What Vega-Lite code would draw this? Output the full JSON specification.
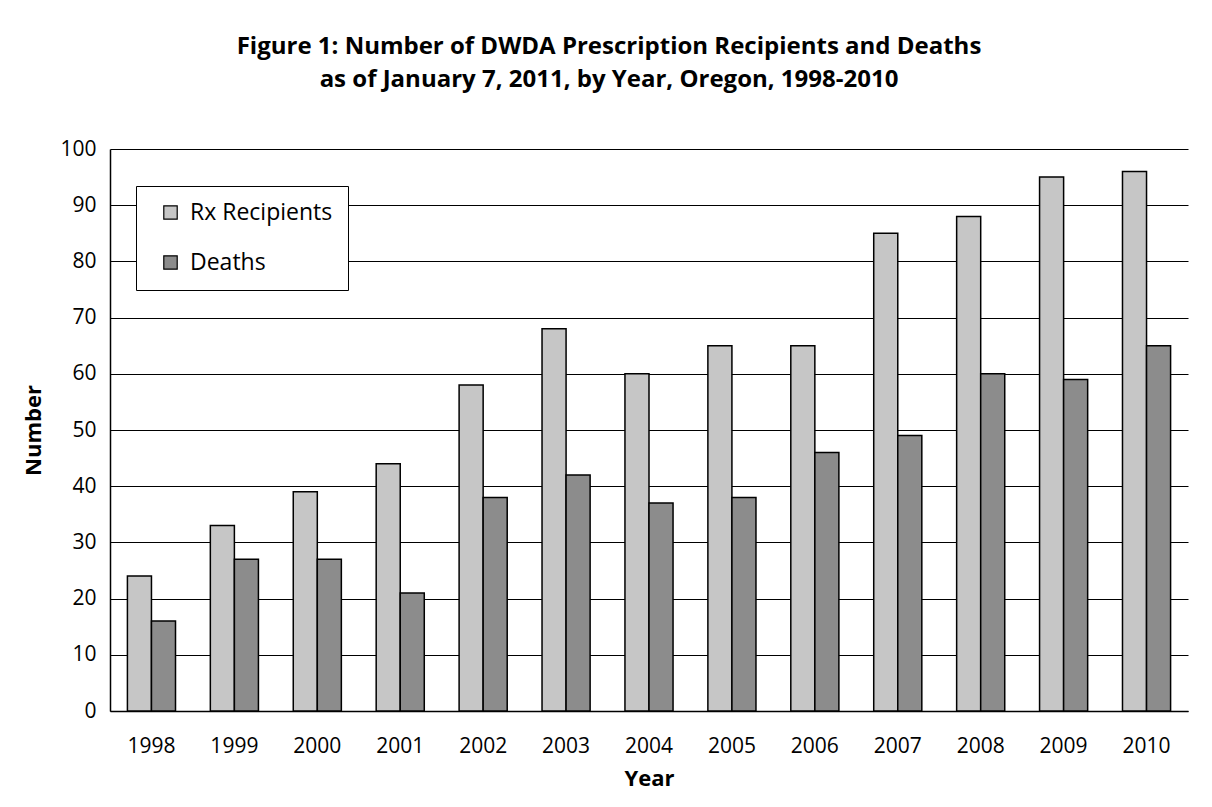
{
  "$schema": "https://vega.github.io/schema/vega-lite/v6.json",
  "autosize": "none",
  "width": 1078,
  "height": 562,
  "padding": {"left": 110, "top": 149, "right": 24, "bottom": 96},
  "background": "white",
  "title": {
    "text": ["Figure 1: Number of DWDA Prescription Recipients and Deaths", "as of January 7, 2011, by Year, Oregon, 1998-2010"],
    "font": "Open Sans",
    "fontSize": 24,
    "fontWeight": "bold",
    "color": "black",
    "lineHeight": 33,
    "anchor": "middle",
    "dx": -40,
    "offset": 46
  },
  "data": {
    "values": [
      {"Year": "1998", "Series": "Rx Recipients", "Number": 24},
      {"Year": "1998", "Series": "Deaths", "Number": 16},
      {"Year": "1999", "Series": "Rx Recipients", "Number": 33},
      {"Year": "1999", "Series": "Deaths", "Number": 27},
      {"Year": "2000", "Series": "Rx Recipients", "Number": 39},
      {"Year": "2000", "Series": "Deaths", "Number": 27},
      {"Year": "2001", "Series": "Rx Recipients", "Number": 44},
      {"Year": "2001", "Series": "Deaths", "Number": 21},
      {"Year": "2002", "Series": "Rx Recipients", "Number": 58},
      {"Year": "2002", "Series": "Deaths", "Number": 38},
      {"Year": "2003", "Series": "Rx Recipients", "Number": 68},
      {"Year": "2003", "Series": "Deaths", "Number": 42},
      {"Year": "2004", "Series": "Rx Recipients", "Number": 60},
      {"Year": "2004", "Series": "Deaths", "Number": 37},
      {"Year": "2005", "Series": "Rx Recipients", "Number": 65},
      {"Year": "2005", "Series": "Deaths", "Number": 38},
      {"Year": "2006", "Series": "Rx Recipients", "Number": 65},
      {"Year": "2006", "Series": "Deaths", "Number": 46},
      {"Year": "2007", "Series": "Rx Recipients", "Number": 85},
      {"Year": "2007", "Series": "Deaths", "Number": 49},
      {"Year": "2008", "Series": "Rx Recipients", "Number": 88},
      {"Year": "2008", "Series": "Deaths", "Number": 60},
      {"Year": "2009", "Series": "Rx Recipients", "Number": 95},
      {"Year": "2009", "Series": "Deaths", "Number": 59},
      {"Year": "2010", "Series": "Rx Recipients", "Number": 96},
      {"Year": "2010", "Series": "Deaths", "Number": 65}
    ]
  },
  "mark": {"type": "bar", "stroke": "black", "strokeWidth": 1.5},
  "encoding": {
    "x": {
      "field": "Year",
      "type": "nominal",
      "scale": {"paddingInner": 0.42, "paddingOuter": 0.21},
      "axis": {
        "title": "Year",
        "labelAngle": 0,
        "labelFont": "Open Sans",
        "labelFontSize": 21,
        "labelColor": "black",
        "labelPadding": 24,
        "titleFont": "Open Sans",
        "titleFontSize": 22,
        "titleFontWeight": "bold",
        "titleColor": "black",
        "titlePadding": 12,
        "domainColor": "black",
        "domainWidth": 1.5,
        "ticks": false
      }
    },
    "xOffset": {
      "field": "Series",
      "type": "nominal",
      "sort": ["Rx Recipients", "Deaths"],
      "scale": {"paddingInner": 0, "paddingOuter": 0}
    },
    "y": {
      "field": "Number",
      "type": "quantitative",
      "scale": {"domain": [0, 100], "nice": false},
      "axis": {
        "title": "Number",
        "values": [0, 10, 20, 30, 40, 50, 60, 70, 80, 90, 100],
        "labelFont": "Open Sans",
        "labelFontSize": 21,
        "labelColor": "black",
        "labelPadding": 14,
        "titleFont": "Open Sans",
        "titleFontSize": 22,
        "titleFontWeight": "bold",
        "titleColor": "black",
        "titlePadding": 14,
        "grid": true,
        "gridColor": "black",
        "gridWidth": 1.2,
        "gridOpacity": 1,
        "domainColor": "black",
        "domainWidth": 1.5,
        "ticks": false
      }
    },
    "color": {
      "field": "Series",
      "type": "nominal",
      "sort": ["Rx Recipients", "Deaths"],
      "scale": {"domain": ["Rx Recipients", "Deaths"], "range": ["#c6c6c6", "#8c8c8c"]},
      "legend": {
        "title": null,
        "orient": "none",
        "legendX": 26,
        "legendY": 37,
        "direction": "vertical",
        "fillColor": "white",
        "strokeColor": "black",
        "padding": 15,
        "symbolOffset": 8,
        "symbolType": "square",
        "symbolSize": 180,
        "symbolStrokeColor": "black",
        "symbolStrokeWidth": 1.2,
        "labelFont": "Open Sans",
        "labelFontSize": 23,
        "labelColor": "black",
        "labelLimit": 300,
        "rowPadding": 26,
        "labelOffset": 8
      }
    }
  },
  "config": {
    "view": {"stroke": null}
  }
}
